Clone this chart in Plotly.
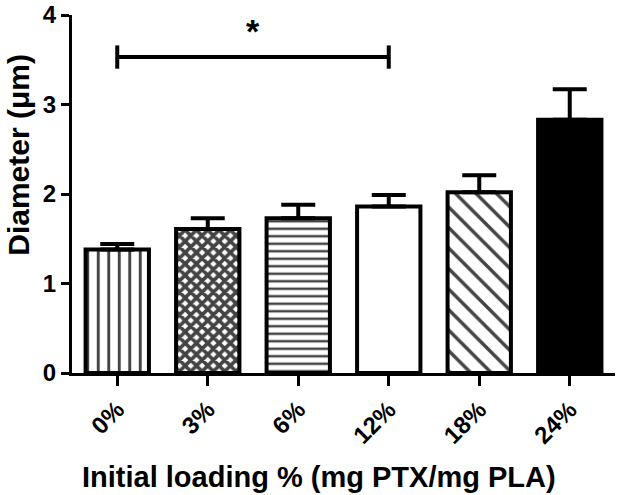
import plotly.graph_objects as go

categories = ["0%", "3%", "6%", "12%", "18%", "24%"]
means = [1.38, 1.61, 1.73, 1.86, 2.02, 2.83]
sem = [0.06, 0.12, 0.15, 0.13, 0.19, 0.34]
patterns = ["|", "x", "-", "", "\\", ""]
pattern_sizes = [10.5, 8, 7.5, 8, 14.5, 8]
pattern_solidity = [0.28, 0.7, 0.33, 0.2, 0.24, 0.2]
fill_colors = ["white", "white", "white", "white", "white", "black"]

sig_from = "0%"
sig_to = "12%"
sig_y = 3.53
sig_tick = 0.13
sig_label = "*"

x_title = "Initial loading % (mg PTX/mg PLA)"
y_title = "Diameter (μm)"

FONT = "Liberation Sans, Arial, sans-serif"

fig = go.Figure()
fig.add_trace(go.Bar(
    x=categories,
    y=means,
    width=0.7,
    marker=dict(
        color=fill_colors,
        line=dict(color="black", width=4),
        pattern=dict(shape=patterns, size=pattern_sizes, solidity=pattern_solidity,
                     fgcolor="black", fgopacity=1, fillmode="overlay"),
    ),
    error_y=dict(type="data", array=sem, arrayminus=[0] * len(sem), symmetric=False,
                 thickness=4, width=17, color="black"),
    showlegend=False,
))

# significance bracket
fig.add_shape(type="line", xref="x", yref="y", x0=sig_from, x1=sig_to, y0=sig_y, y1=sig_y,
              line=dict(color="black", width=4))
for c in (sig_from, sig_to):
    fig.add_shape(type="line", xref="x", yref="y", x0=c, x1=c,
                  y0=sig_y - sig_tick, y1=sig_y + sig_tick,
                  line=dict(color="black", width=4))
fig.add_annotation(x=1.5, y=sig_y + 0.29, xref="x", yref="y", text=sig_label,
                   showarrow=False, yanchor="middle",
                   font=dict(family=FONT, size=34, color="black", weight="bold"))

# axis titles
fig.add_annotation(x=0.455, y=-0.29, xref="paper", yref="paper", text=x_title,
                   showarrow=False, xanchor="center", yanchor="middle",
                   font=dict(family=FONT, size=29, color="black", weight="bold"))
fig.add_annotation(x=-0.098, y=0.609, xref="paper", yref="paper", text=y_title,
                   showarrow=False, xanchor="center", yanchor="middle", textangle=-90,
                   font=dict(family=FONT, size=30, color="black", weight="bold"))

fig.update_layout(
    width=620, height=495,
    margin=dict(l=72, r=5, t=15, b=122, autoexpand=False),
    paper_bgcolor="white", plot_bgcolor="white",
    font=dict(family=FONT, color="black"),
)
fig.update_xaxes(
    type="category", range=[-0.5, 5.5], automargin=False,
    showline=True, linewidth=3, linecolor="black",
    ticks="outside", ticklen=10, tickwidth=3, tickcolor="black",
    tickangle=-45,
    tickfont=dict(family=FONT, size=24, color="black", weight="bold"),
    showgrid=False, zeroline=False,
)
fig.update_yaxes(
    range=[0, 4], dtick=1, automargin=False,
    showline=True, linewidth=3, linecolor="black",
    ticks="outside", ticklen=8, tickwidth=3, tickcolor="black",
    tickfont=dict(family=FONT, size=24, color="black", weight="bold"),
    showgrid=False, zeroline=False,
)

fig.write_html("out.html", config={"displayModeBar": False},
               post_script="document.body.style.margin='0';document.body.style.overflow='hidden';")
